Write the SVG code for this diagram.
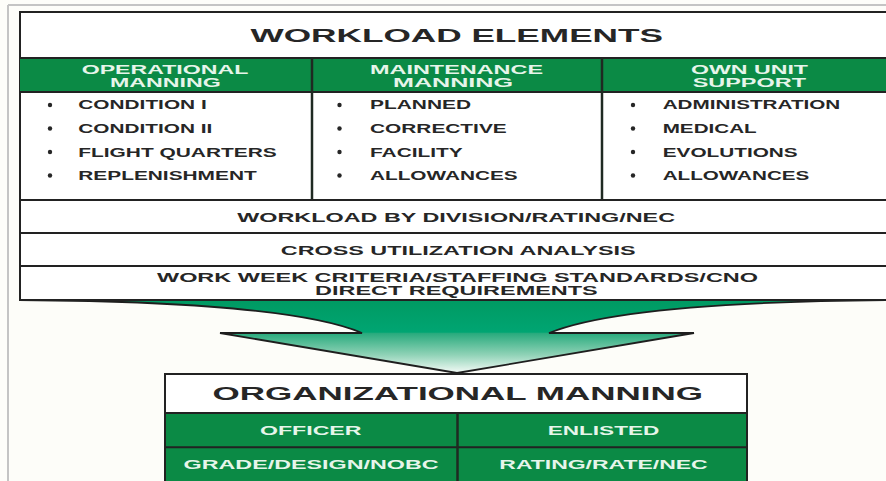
<svg xmlns="http://www.w3.org/2000/svg" width="886" height="481" viewBox="0 0 886 481">
<defs>
<linearGradient id="arrowGrad" gradientUnits="userSpaceOnUse" x1="0" y1="300" x2="0" y2="373">
<stop offset="0" stop-color="#009a62"/>
<stop offset="0.44" stop-color="#00a572"/>
<stop offset="0.46" stop-color="#2aab7e"/>
<stop offset="0.75" stop-color="#8fd2b6"/>
<stop offset="1" stop-color="#f4fbf7"/>
</linearGradient>
<style>
.frame{stroke:#c4c4c4;stroke-width:2;fill:none}
.box{fill:#ffffff;stroke:#222;stroke-width:2}
.green{fill:#0b8a45}
.ln{stroke:#222;stroke-width:2;fill:none}
.div{stroke:#1f2a22;stroke-width:2.5;fill:none}
text{font-family:"Liberation Sans",Arial,Helvetica,sans-serif;font-weight:bold}
.dark{fill:#262626}
.light{fill:#e6f5ea}
.t19{font-size:19px}
.t12{font-size:12.5px}
.t18{font-size:18px}
.bul{fill:#262626}
</style>
</defs>
<rect x="0" y="0" width="886" height="481" fill="#fdfdf9"/>
<g id="frame">
<line class="frame" x1="8" y1="5" x2="8" y2="481"/>
<line class="frame" x1="8" y1="5" x2="886" y2="5"/>
</g>

<g id="connectors">
<path d="M19,300 Q290,302 362,333 L220,333 L457,373 L694,333 L549,333 Q624,302 890,300 Z" fill="url(#arrowGrad)" stroke="#1e1e1e" stroke-width="1.8" stroke-linejoin="miter"/>
</g>

<g id="workload-elements">
<rect class="box" x="20" y="12" width="880" height="288"/>
<rect class="green" x="20" y="58" width="880" height="34"/>
<line class="ln" x1="20" y1="58" x2="886" y2="58"/>
<line class="ln" x1="20" y1="92" x2="886" y2="92"/>
<text class="dark t19" x="250.5" y="42" textLength="412.5" lengthAdjust="spacingAndGlyphs">WORKLOAD ELEMENTS</text>
</g>

<g id="operational-manning">
<text class="light t12" x="81.7" y="74" textLength="166.6" lengthAdjust="spacingAndGlyphs">OPERATIONAL</text>
<text class="light t12" x="110" y="87" textLength="110.7" lengthAdjust="spacingAndGlyphs">MANNING</text>
<circle class="bul" cx="50" cy="105" r="2.2"/>
<circle class="bul" cx="50" cy="128.5" r="2.2"/>
<circle class="bul" cx="50" cy="152" r="2.2"/>
<circle class="bul" cx="50" cy="175.5" r="2.2"/>
<text class="dark t12" x="78.3" y="109.3" textLength="128.4" lengthAdjust="spacingAndGlyphs">CONDITION I</text>
<text class="dark t12" x="78.3" y="132.7" textLength="134" lengthAdjust="spacingAndGlyphs">CONDITION II</text>
<text class="dark t12" x="78.3" y="156.5" textLength="198.4" lengthAdjust="spacingAndGlyphs">FLIGHT QUARTERS</text>
<text class="dark t12" x="78.3" y="180" textLength="178.4" lengthAdjust="spacingAndGlyphs">REPLENISHMENT</text>
</g>

<g id="maintenance-manning">
<line class="div" x1="312" y1="58" x2="312" y2="200"/>
<text class="light t12" x="370" y="74" textLength="173" lengthAdjust="spacingAndGlyphs">MAINTENANCE</text>
<text class="light t12" x="393" y="87" textLength="120" lengthAdjust="spacingAndGlyphs">MANNING</text>
<circle class="bul" cx="339.5" cy="105" r="2.2"/>
<circle class="bul" cx="339.5" cy="128.5" r="2.2"/>
<circle class="bul" cx="339.5" cy="152" r="2.2"/>
<circle class="bul" cx="339.5" cy="175.5" r="2.2"/>
<text class="dark t12" x="370" y="109.3" textLength="101" lengthAdjust="spacingAndGlyphs">PLANNED</text>
<text class="dark t12" x="370" y="132.7" textLength="136.7" lengthAdjust="spacingAndGlyphs">CORRECTIVE</text>
<text class="dark t12" x="370" y="156.5" textLength="92.7" lengthAdjust="spacingAndGlyphs">FACILITY</text>
<text class="dark t12" x="370" y="180" textLength="147.7" lengthAdjust="spacingAndGlyphs">ALLOWANCES</text>
</g>

<g id="own-unit-support">
<line class="div" x1="602" y1="58" x2="602" y2="200"/>
<text class="light t12" x="691" y="74" textLength="117" lengthAdjust="spacingAndGlyphs">OWN UNIT</text>
<text class="light t12" x="692.7" y="87" textLength="113.3" lengthAdjust="spacingAndGlyphs">SUPPORT</text>
<circle class="bul" cx="633" cy="105" r="2.2"/>
<circle class="bul" cx="633" cy="128.5" r="2.2"/>
<circle class="bul" cx="633" cy="152" r="2.2"/>
<circle class="bul" cx="633" cy="175.5" r="2.2"/>
<text class="dark t12" x="662.7" y="109.3" textLength="177.6" lengthAdjust="spacingAndGlyphs">ADMINISTRATION</text>
<text class="dark t12" x="662.7" y="132.7" textLength="94" lengthAdjust="spacingAndGlyphs">MEDICAL</text>
<text class="dark t12" x="662.7" y="156.5" textLength="135" lengthAdjust="spacingAndGlyphs">EVOLUTIONS</text>
<text class="dark t12" x="662.7" y="180" textLength="146.6" lengthAdjust="spacingAndGlyphs">ALLOWANCES</text>
</g>

<g id="workload-by-division">
<line class="ln" x1="20" y1="200" x2="886" y2="200"/>
<text class="dark t12" x="237.3" y="221.5" textLength="437.7" lengthAdjust="spacingAndGlyphs">WORKLOAD BY DIVISION/RATING/NEC</text>
</g>

<g id="cross-utilization">
<line class="ln" x1="20" y1="233" x2="886" y2="233"/>
<text class="dark t12" x="280.8" y="255" textLength="354.8" lengthAdjust="spacingAndGlyphs">CROSS UTILIZATION ANALYSIS</text>
</g>

<g id="work-week-criteria">
<line class="ln" x1="20" y1="266" x2="886" y2="266"/>
<text class="dark t12" x="157" y="281.5" textLength="601" lengthAdjust="spacingAndGlyphs">WORK WEEK CRITERIA/STAFFING STANDARDS/CNO</text>
<text class="dark t12" x="315" y="294.5" textLength="282.7" lengthAdjust="spacingAndGlyphs">DIRECT REQUIREMENTS</text>
</g>

<g id="organizational-manning">
<rect class="box" x="165" y="374" width="582" height="120"/>
<rect class="green" x="166" y="413" width="580" height="70"/>
<line class="ln" x1="165" y1="413" x2="747" y2="413"/>
<line class="ln" x1="165" y1="447.3" x2="747" y2="447.3"/>
<line class="div" x1="457.5" y1="413" x2="457.5" y2="481"/>
<text class="dark t18" x="212.5" y="400" textLength="490.5" lengthAdjust="spacingAndGlyphs">ORGANIZATIONAL MANNING</text>
</g>

<g id="officer">
<text class="light t12" x="260" y="435" textLength="101.5" lengthAdjust="spacingAndGlyphs">OFFICER</text>
<text class="light t12" x="183.6" y="468.5" textLength="255" lengthAdjust="spacingAndGlyphs">GRADE/DESIGN/NOBC</text>
</g>

<g id="enlisted">
<text class="light t12" x="547.7" y="435" textLength="111.6" lengthAdjust="spacingAndGlyphs">ENLISTED</text>
<text class="light t12" x="499.3" y="468.5" textLength="208.4" lengthAdjust="spacingAndGlyphs">RATING/RATE/NEC</text>
</g>
</svg>
